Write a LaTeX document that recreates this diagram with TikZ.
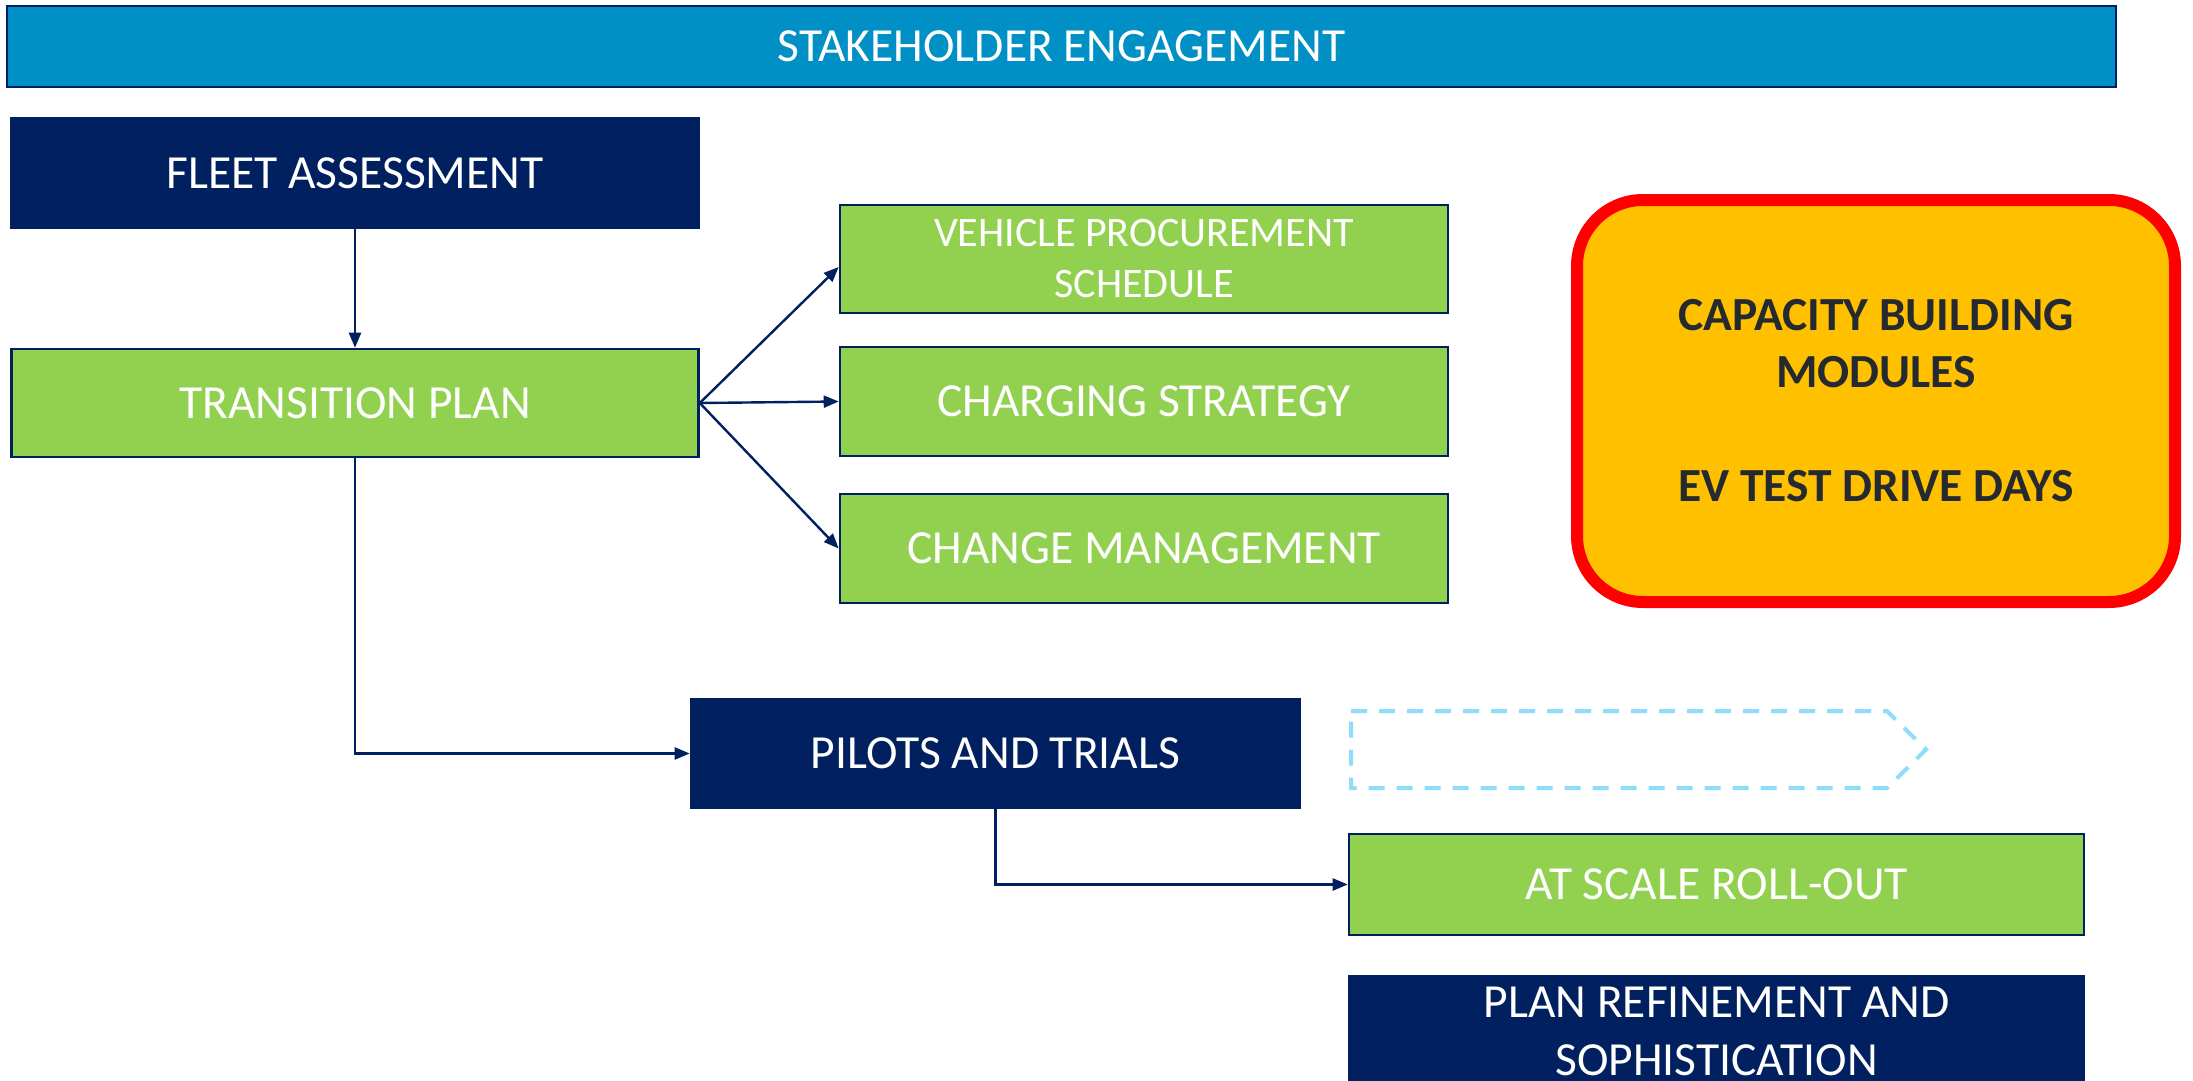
\documentclass[tikz,border=0pt]{standalone}
\usepackage{fontspec}
\setmainfont{Carlito}
\usetikzlibrary{arrows.meta,calc}
\definecolor{navy}{HTML}{002060}
\definecolor{skyblue}{HTML}{0090C6}
\definecolor{leaf}{HTML}{92D050}
\definecolor{amber}{HTML}{FFC000}
\definecolor{capred}{HTML}{FF0000}
\definecolor{captext}{HTML}{252A30}
\definecolor{dashblue}{HTML}{8EDEFB}
\tikzset{
  box/.style={rectangle, draw=navy, line width=2.6pt, inner sep=0pt, align=center,
    text=white, font=\fontsize{47.5}{58}\selectfont},
  darkbox/.style={box, fill=navy},
  greenbox/.style={box, fill=leaf},
  conn/.style={draw=navy, line width=2.4pt, -{Triangle[length=15pt,width=12pt]}},
}
\begin{document}
\begin{tikzpicture}[x=1pt,y=-1pt]
\useasboundingbox (0,0) rectangle (2193,1081);
\fill[white] (0,0) rectangle (2193,1081);

\node[box, fill=skyblue, minimum width=2109pt, minimum height=81pt] (stake) at (1061.5,46.5) {STAKEHOLDER ENGAGEMENT};

\node[darkbox, minimum width=687pt, minimum height=110pt] (fleet) at (355,173) {FLEET ASSESSMENT};
\node[greenbox, minimum width=687pt, minimum height=108pt] (trans) at (355,403) {TRANSITION PLAN};

\node[greenbox, minimum width=608pt, minimum height=108pt, font=\fontsize{42}{51}\selectfont] (veh) at (1144,259) {VEHICLE PROCUREMENT\\SCHEDULE};
\node[greenbox, minimum width=608pt, minimum height=109pt] (charg) at (1144,401.5) {CHARGING STRATEGY};
\node[greenbox, minimum width=608pt, minimum height=109pt] (change) at (1144,548.5) {CHANGE MANAGEMENT};

\node[rectangle, rounded corners=66pt, draw=capred, line width=12pt, fill=amber,
  minimum width=598pt, minimum height=402pt, inner sep=0pt, align=center, text=captext,
  font=\fontsize{47.5}{57}\bfseries\selectfont] (cap) at (1876,401)
  {CAPACITY BUILDING\\MODULES\\[57pt]EV TEST DRIVE DAYS};

\node[darkbox, minimum width=609pt, minimum height=109pt] (pilots) at (995.5,753.5) {PILOTS AND TRIALS};

\draw[dashblue, line width=4pt, dash pattern=on 16pt off 12pt]
  (1351,711) -- (1887,711) -- (1926,749.5) -- (1887,788) -- (1351,788) -- cycle;

\node[greenbox, minimum width=735pt, minimum height=101pt] (atscale) at (1716.5,884.5) {AT SCALE ROLL-OUT};
\node[darkbox, minimum width=735pt, minimum height=111pt] (refine) at (1716.5,1031.5) {PLAN REFINEMENT AND\\SOPHISTICATION};

\draw[conn] (fleet.south) -- (trans.north);
\draw[conn] (trans.east) -- ($(veh.west)+(0,8)$);
\draw[conn] (trans.east) -- (charg.west);
\draw[conn] (trans.east) -- (change.west);
\draw[conn] (trans.south) |- (pilots.west);
\draw[conn] (pilots.south) |- (atscale.west);
\end{tikzpicture}
\end{document}
